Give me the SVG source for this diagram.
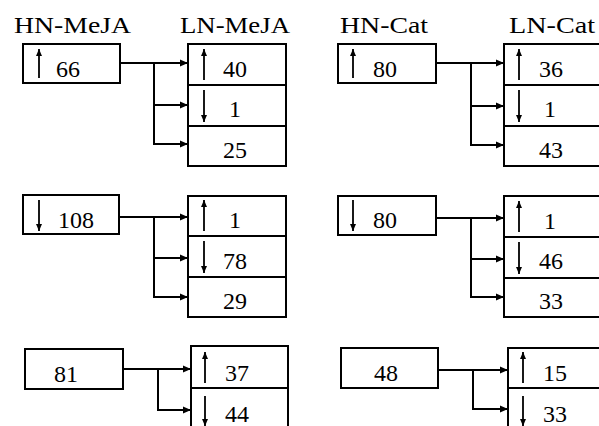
<svg xmlns="http://www.w3.org/2000/svg" width="599" height="426" viewBox="0 0 599 426">
<style>
.box{fill:#fff;stroke:#000;stroke-width:2}
.div{stroke:#000;stroke-width:2}
.con{fill:none;stroke:#000;stroke-width:2}
.ia{stroke:#000;stroke-width:1.8}
text{font-family:"Liberation Serif","Times New Roman",serif;font-size:24px;fill:#000}
.hd{font-size:23px}
.m{text-anchor:middle}
</style>
<defs>
<marker id="ah" markerUnits="userSpaceOnUse" markerWidth="10" markerHeight="10" refX="8" refY="4" orient="auto">
<path d="M0,0.5 L8,4 L0,7.5 Z" fill="#000"/>
</marker>
<marker id="ih" markerUnits="userSpaceOnUse" markerWidth="8" markerHeight="8" refX="7" refY="3.5" orient="auto">
<path d="M0,0.5 L7,3.5 L0,6.5 Z" fill="#000"/>
</marker>
</defs>
<rect width="599" height="426" fill="#fff"/>

<g id="labels">
<text class="hd" x="14" y="33" textLength="117" lengthAdjust="spacingAndGlyphs">HN-MeJA</text>
<text class="hd" x="180" y="33" textLength="110" lengthAdjust="spacingAndGlyphs">LN-MeJA</text>
<text class="hd" x="340" y="33" textLength="88" lengthAdjust="spacingAndGlyphs">HN-Cat</text>
<text class="hd" x="509" y="33" textLength="86" lengthAdjust="spacingAndGlyphs">LN-Cat</text>
</g>

<g id="connectors">
<path class="con" marker-end="url(#ah)" d="M120,63 H188"/>
<path class="con" marker-end="url(#ah)" d="M154,63 V144 H188"/>
<path class="con" marker-end="url(#ah)" d="M154,105 H188"/>
<path class="con" marker-end="url(#ah)" d="M119,217 H188"/>
<path class="con" marker-end="url(#ah)" d="M154,217 V297 H188"/>
<path class="con" marker-end="url(#ah)" d="M154,258 H188"/>
<path class="con" marker-end="url(#ah)" d="M123,369 H191"/>
<path class="con" marker-end="url(#ah)" d="M158,369 V410 H191"/>
<path class="con" marker-end="url(#ah)" d="M436,63 H504"/>
<path class="con" marker-end="url(#ah)" d="M471,63 V145 H504"/>
<path class="con" marker-end="url(#ah)" d="M471,106 H504"/>
<path class="con" marker-end="url(#ah)" d="M436,218 H504"/>
<path class="con" marker-end="url(#ah)" d="M471,218 V297 H504"/>
<path class="con" marker-end="url(#ah)" d="M471,259 H504"/>
<path class="con" marker-end="url(#ah)" d="M438,370 H508"/>
<path class="con" marker-end="url(#ah)" d="M473,370 V409 H508"/>
</g>

<g id="hn-meja-1">
<rect class="box" x="23" y="44" width="97" height="39"/>
<line class="ia" x1="39" y1="78" x2="39" y2="49" marker-end="url(#ih)"/>
<text x="56" y="77">66</text>
</g>
<g id="ln-meja-1">
<rect class="box" x="188" y="44" width="98" height="122"/>
<line class="div" x1="188" y1="85" x2="286" y2="85"/>
<line class="div" x1="188" y1="126" x2="286" y2="126"/>
<line class="ia" x1="204" y1="80" x2="204" y2="49" marker-end="url(#ih)"/>
<line class="ia" x1="204" y1="90" x2="204" y2="122" marker-end="url(#ih)"/>
<text class="m" x="235" y="77">40</text>
<text class="m" x="235" y="117">1</text>
<text class="m" x="235" y="158">25</text>
</g>

<g id="hn-meja-2">
<rect class="box" x="23" y="195" width="96" height="39"/>
<line class="ia" x1="39" y1="200" x2="39" y2="231" marker-end="url(#ih)"/>
<text x="58" y="228">108</text>
</g>
<g id="ln-meja-2">
<rect class="box" x="188" y="196" width="98" height="121"/>
<line class="div" x1="188" y1="236" x2="286" y2="236"/>
<line class="div" x1="188" y1="277" x2="286" y2="277"/>
<line class="ia" x1="204" y1="231" x2="204" y2="200" marker-end="url(#ih)"/>
<line class="ia" x1="204" y1="241" x2="204" y2="273" marker-end="url(#ih)"/>
<text class="m" x="235" y="228">1</text>
<text class="m" x="235" y="269">78</text>
<text class="m" x="235" y="309">29</text>
</g>

<g id="hn-meja-3">
<rect class="box" x="25" y="349" width="98" height="40"/>
<text class="m" x="66" y="382">81</text>
</g>
<g id="ln-meja-3">
<path class="con" d="M191,430 V346 H288 V430"/>
<line class="div" x1="191" y1="388" x2="288" y2="388"/>
<line class="ia" x1="205" y1="383" x2="205" y2="352" marker-end="url(#ih)"/>
<line class="ia" x1="205" y1="396" x2="205" y2="426" marker-end="url(#ih)"/>
<text class="m" x="237" y="381">37</text>
<text class="m" x="237" y="422">44</text>
</g>

<g id="hn-cat-1">
<rect class="box" x="338" y="44" width="98" height="39"/>
<line class="ia" x1="353" y1="78" x2="353" y2="49" marker-end="url(#ih)"/>
<text x="373" y="77">80</text>
</g>
<g id="ln-cat-1">
<path class="con" d="M610,44 H504 V166 H610"/>
<line class="div" x1="504" y1="85" x2="610" y2="85"/>
<line class="div" x1="504" y1="126" x2="610" y2="126"/>
<line class="ia" x1="519" y1="80" x2="519" y2="49" marker-end="url(#ih)"/>
<line class="ia" x1="519" y1="90" x2="519" y2="122" marker-end="url(#ih)"/>
<text class="m" x="551" y="77">36</text>
<text class="m" x="550" y="117">1</text>
<text class="m" x="551" y="158">43</text>
</g>

<g id="hn-cat-2">
<rect class="box" x="338" y="196" width="98" height="39"/>
<line class="ia" x1="353" y1="200" x2="353" y2="231" marker-end="url(#ih)"/>
<text x="373" y="228">80</text>
</g>
<g id="ln-cat-2">
<path class="con" d="M610,196 H504 V317 H610"/>
<line class="div" x1="504" y1="237" x2="610" y2="237"/>
<line class="div" x1="504" y1="278" x2="610" y2="278"/>
<line class="ia" x1="519" y1="232" x2="519" y2="201" marker-end="url(#ih)"/>
<line class="ia" x1="519" y1="242" x2="519" y2="274" marker-end="url(#ih)"/>
<text class="m" x="550" y="229">1</text>
<text class="m" x="551" y="269">46</text>
<text class="m" x="551" y="309">33</text>
</g>

<g id="hn-cat-3">
<rect class="box" x="341" y="348" width="97" height="40"/>
<text class="m" x="386" y="381">48</text>
</g>
<g id="ln-cat-3">
<path class="con" d="M508,430 V348 H610"/>
<line class="div" x1="508" y1="388" x2="610" y2="388"/>
<line class="ia" x1="523" y1="383" x2="523" y2="352" marker-end="url(#ih)"/>
<line class="ia" x1="523" y1="396" x2="523" y2="426" marker-end="url(#ih)"/>
<text class="m" x="555" y="381">15</text>
<text class="m" x="555" y="422">33</text>
</g>
</svg>
